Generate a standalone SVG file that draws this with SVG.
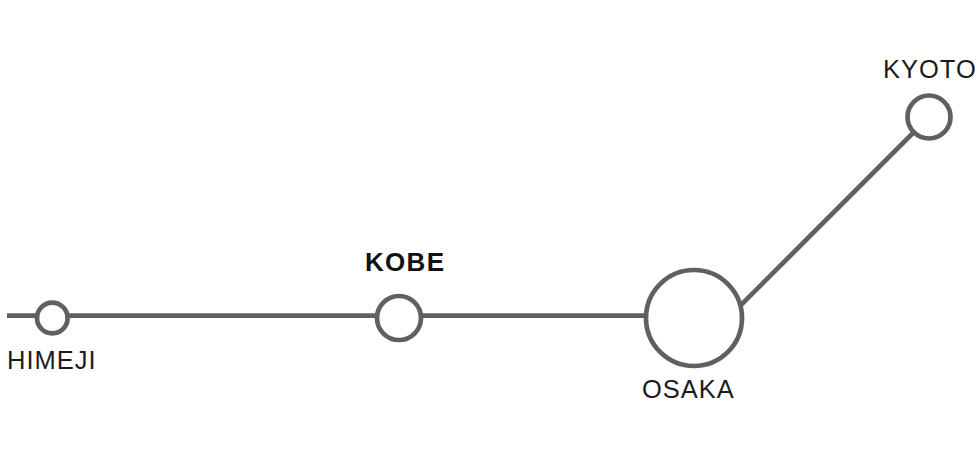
<svg xmlns="http://www.w3.org/2000/svg" width="980" height="470" viewBox="0 0 980 470">
<style>
.l{fill:none;stroke:#606060;stroke-width:4.7}
.n{fill:#fff;stroke:#606060;stroke-width:4.7}
.t{font-family:"Liberation Sans",Arial,sans-serif;font-size:25.5px;fill:#1c1c1c;letter-spacing:1px}
.b{font-family:"Liberation Sans",Arial,sans-serif;font-size:26px;font-weight:700;fill:#111;letter-spacing:1.3px}
</style>
<rect width="980" height="470" fill="#fff"/>
<g id="connectors">
<path class="l" d="M7 315.7H694"/>
<path class="l" d="M694 352L929 117"/>
</g>
<g id="himeji"><circle class="n" cx="52.3" cy="318" r="15.3"/><text class="t" x="7" y="368.5">HIMEJI</text></g>
<g id="kobe"><circle class="n" cx="399" cy="318" r="22"/><text class="b" x="365" y="271">KOBE</text></g>
<g id="osaka"><circle class="n" cx="694" cy="318" r="48"/><text class="t" x="642" y="398">OSAKA</text></g>
<g id="kyoto"><circle class="n" cx="929" cy="117" r="21.5"/><text class="t" x="883" y="78">KYOTO</text></g>
</svg>
